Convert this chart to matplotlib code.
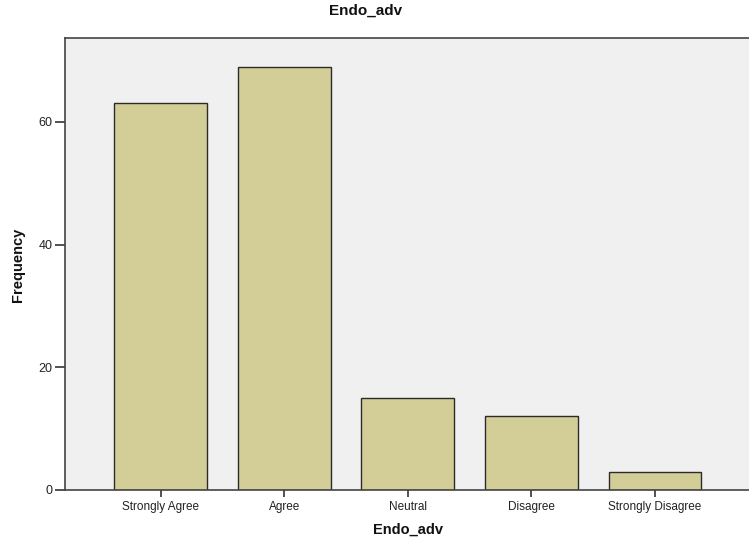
import matplotlib
matplotlib.use("Agg")
import matplotlib.pyplot as plt

plt.rcParams["font.family"] = ["Liberation Sans", "DejaVu Sans"]

# ── Data ──────────────────────────────────────────────────────────────────────
categories = ["Strongly Agree", "Agree", "Neutral", "Disagree", "Strongly Disagree"]
frequency = [63, 69, 15, 12, 3]
y_ticks = [0, 20, 40, 60]

BAR_COL = "#D3CE97"
BG_COL = "#F0F0F0"
EDGE_COL = "#2B2B2B"

W, H = 749, 538
fig = plt.figure(figsize=(W / 100, H / 100), dpi=100)
fig.patch.set_facecolor("white")

# plot area in pixels: left 65, top 38, bottom 490, runs off the right edge
ax = fig.add_axes([65 / W, 1 - 490 / H, (W - 65) / W + 0.01, (490 - 38) / H])
ax.set_facecolor(BG_COL)

x = list(range(len(categories)))
ax.bar(x, frequency, width=0.75, color=BAR_COL, edgecolor=EDGE_COL, linewidth=1.0, zorder=2)

ax.set_xlim(-0.774, 4.742 + 0.08)
ax.set_ylim(0, 73.65)

ax.set_xticks(x)
ax.set_xticklabels(categories, fontsize=8.5, color="#222222")
ax.set_yticks(y_ticks)
ax.set_yticklabels([str(v) for v in y_ticks], fontsize=9, color="#222222")
ax.tick_params(axis="x", direction="out", length=5, width=1.2, color="#333333", pad=3)
ax.tick_params(axis="y", direction="out", length=7, width=1.2, color="#333333", pad=2)

for side in ["left", "bottom", "top"]:
    ax.spines[side].set_color("#444444")
    ax.spines[side].set_linewidth(1.2)
ax.spines["right"].set_visible(False)

fig.text(366 / W, 1 - 11 / H, "Endo_adv", ha="center", va="center",
         fontsize=11, fontweight="bold", color="#111111")
fig.text(408 / W, 1 - 530 / H, "Endo_adv", ha="center", va="center",
         fontsize=10.5, fontweight="bold", color="#111111")
fig.text(18 / W, 1 - 265 / H, "Frequency", ha="center", va="center", rotation=90,
         fontsize=10.5, fontweight="bold", color="#111111")

fig.savefig("out.png", dpi=100, facecolor="white")
